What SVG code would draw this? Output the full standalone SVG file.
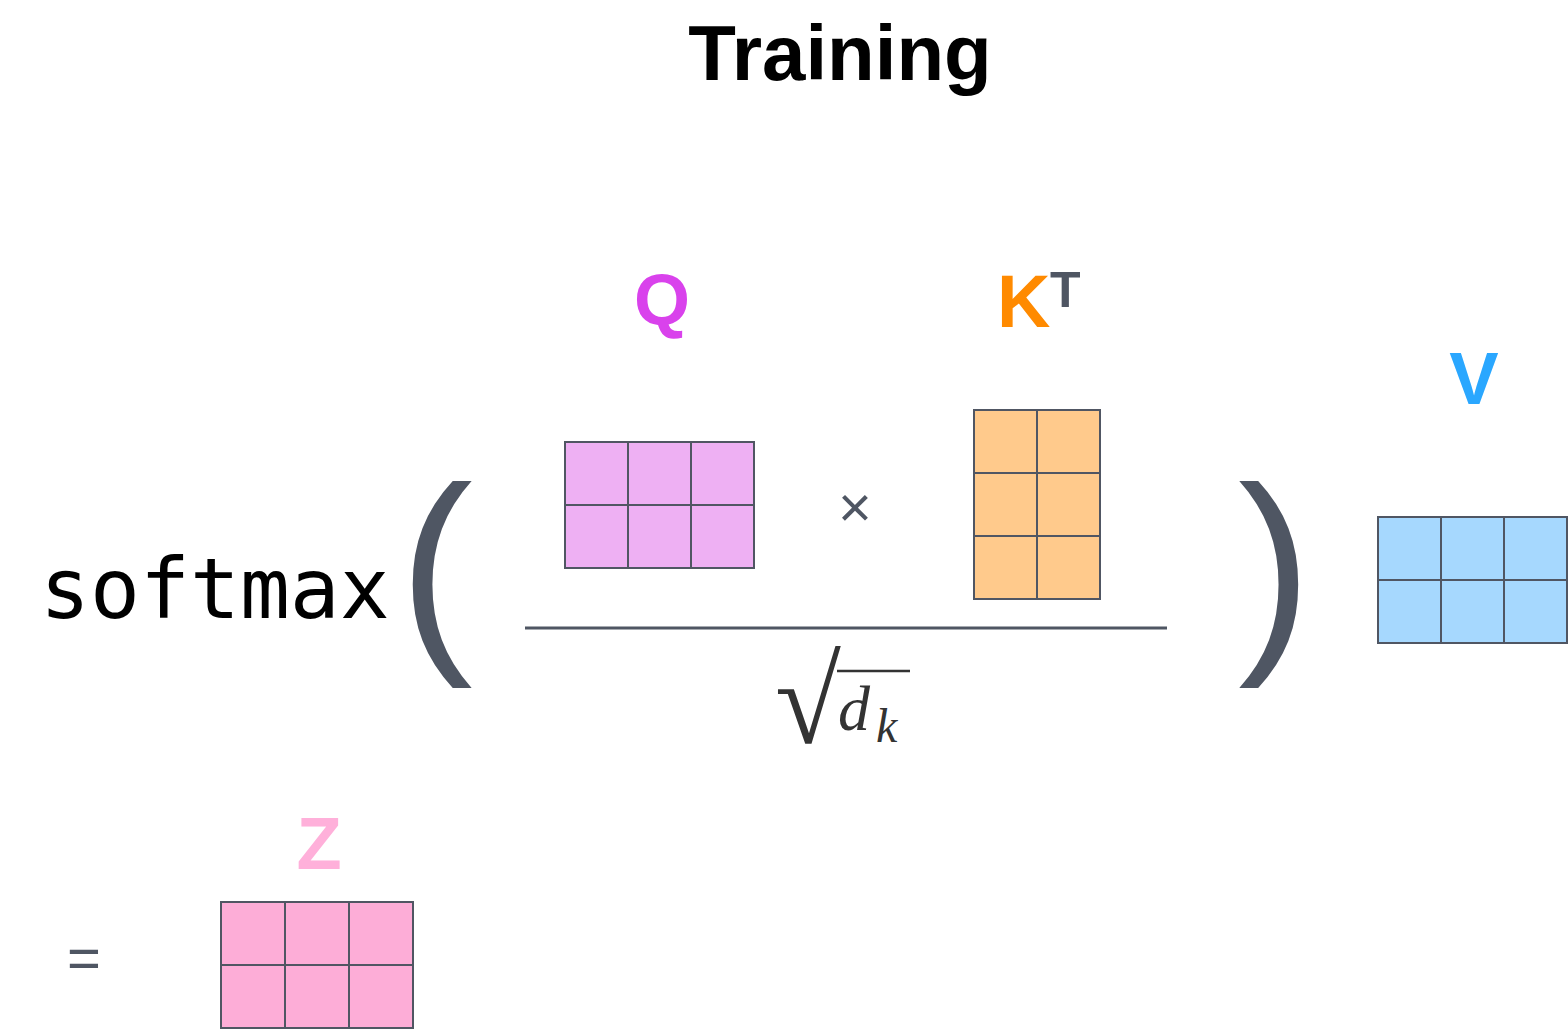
<svg xmlns="http://www.w3.org/2000/svg" width="1568" height="1030" viewBox="0 0 1568 1030">
<style>
.cell{stroke:#505663;stroke-width:2}
.lbl{font-family:"Liberation Sans",Arial,sans-serif;font-weight:bold}
.paren{font-family:"Liberation Sans",Arial,sans-serif;font-size:222px;fill:#4f5663}
.op{font-family:"Liberation Sans",Arial,sans-serif;fill:#4f5663}
.math{font-family:"Liberation Serif","Times New Roman",serif;fill:#333}
</style>
<rect width="1568" height="1030" fill="#fff"/>
<text x="840" y="80" text-anchor="middle" class="lbl" font-size="78" fill="#000">Training</text>
<text x="40" y="618" font-family="DejaVu Sans Mono,monospace" font-size="83" fill="#000">softmax</text>
<text x="399" y="642" class="paren">(</text>
<text x="1238" y="642" class="paren">)</text>
<g id="Q">
<text x="662" y="325" text-anchor="middle" class="lbl" font-size="72" fill="#D942EC">Q</text>
<g class="cell" fill="#EEB0F3">
<rect x="565" y="442" width="63" height="63"/><rect x="628" y="442" width="63" height="63"/><rect x="691" y="442" width="63" height="63"/>
<rect x="565" y="505" width="63" height="63"/><rect x="628" y="505" width="63" height="63"/><rect x="691" y="505" width="63" height="63"/>
</g>
</g>
<text x="855" y="527" text-anchor="middle" class="op" font-size="58">×</text>
<g id="KT">
<text x="997" y="327" class="lbl" font-size="74" fill="#FF8A00">K</text>
<text x="1050" y="307" class="lbl" font-size="50" fill="#4f5663">T</text>
<g class="cell" fill="#FFCA8C">
<rect x="974" y="410" width="63" height="63"/><rect x="1037" y="410" width="63" height="63"/>
<rect x="974" y="473" width="63" height="63"/><rect x="1037" y="473" width="63" height="63"/>
<rect x="974" y="536" width="63" height="63"/><rect x="1037" y="536" width="63" height="63"/>
</g>
</g>
<line x1="525" y1="628" x2="1167" y2="628" stroke="#4f5663" stroke-width="3"/>
<g id="sqrtdk">
<text transform="translate(775,743) scale(1.5,1.53)" x="0" y="0" class="math" font-size="80">√</text>
<line x1="837" y1="671" x2="910" y2="671" stroke="#333" stroke-width="2.5"/>
<text x="838" y="730" class="math" font-size="64" font-style="italic">d</text>
<text x="876" y="742" class="math" font-size="48" font-style="italic">k</text>
</g>
<g id="V">
<text x="1474" y="404" text-anchor="middle" class="lbl" font-size="74" fill="#2AA7FF">V</text>
<g class="cell" fill="#A6D8FE">
<rect x="1378" y="517" width="63" height="63"/><rect x="1441" y="517" width="63" height="63"/><rect x="1504" y="517" width="63" height="63"/>
<rect x="1378" y="580" width="63" height="63"/><rect x="1441" y="580" width="63" height="63"/><rect x="1504" y="580" width="63" height="63"/>
</g>
</g>
<text x="84" y="978" text-anchor="middle" class="op" font-size="58">=</text>
<g id="Z">
<text x="319" y="869" text-anchor="middle" class="lbl" font-size="74" fill="#FFB0DA">Z</text>
<g class="cell" fill="#FDADD7">
<rect x="221" y="902" width="64" height="63"/><rect x="285" y="902" width="64" height="63"/><rect x="349" y="902" width="64" height="63"/>
<rect x="221" y="965" width="64" height="63"/><rect x="285" y="965" width="64" height="63"/><rect x="349" y="965" width="64" height="63"/>
</g>
</g>
</svg>
